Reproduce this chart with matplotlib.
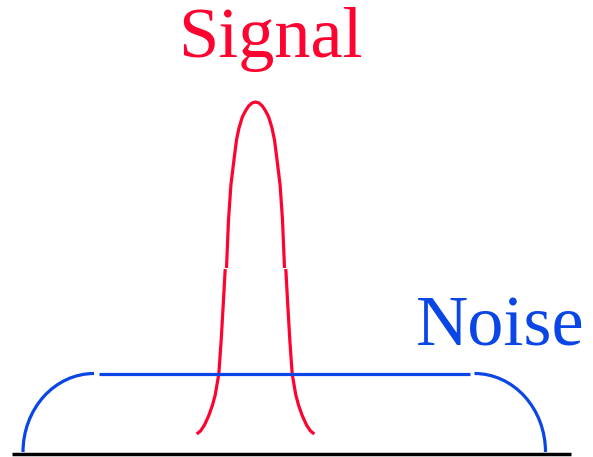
import matplotlib
matplotlib.use("Agg")
import matplotlib.pyplot as plt
from matplotlib.patches import Arc
import numpy as np

# ---- data (heights measured above the baseline, x in horizontal units) ----
signal_center = 255.5
# upper part of the signal peak: height, half-width
sig_upper_h = [352, 351, 348, 344, 339, 336, 326, 314, 296, 269, 234, 186]
sig_upper_w = [0.0, 3.5, 6.8, 9.5, 12.2, 13.5, 16.5, 19.0, 21.3, 24.6, 27.0, 29.0]
# lower part of the signal peak
sig_lower_h = [185, 154, 114, 80, 59, 49, 39, 29, 23, 20]
sig_lower_w = [30.3, 32.0, 34.3, 36.7, 40.3, 43.0, 46.5, 51.0, 55.0, 58.8]

noise_level = 80.5
noise_left_center = 94.0
noise_right_center = 474.5
noise_rx = 71.0
noise_ry = 78.5
noise_flat = [99.0, 469.5]
baseline_x = [12, 571]

signal_label = "Signal"
noise_label = "Noise"

red = "#ff0330"
blue = "#0a46e6"

fig = plt.figure(figsize=(5.93, 4.57), dpi=100)
ax = fig.add_axes([0, 0, 1, 1])
ax.set_xlim(0, 593)
ax.set_ylim(-3, 454)
ax.axis("off")

# baseline
ax.plot(baseline_x, [0, 0], color="black", lw=2.5, solid_capstyle="butt", zorder=1)

# signal (two pieces, each side)
uh = np.array(sig_upper_h); uw = np.array(sig_upper_w)
lh = np.array(sig_lower_h); lw_ = np.array(sig_lower_w)
ux = np.concatenate([signal_center - uw[::-1], signal_center + uw[1:]])
uy = np.concatenate([uh[::-1], uh[1:]])
ax.plot(ux, uy, color=red, lw=2.3, solid_capstyle="butt", zorder=2)
ax.plot(signal_center - lw_, lh, color=red, lw=2.3, solid_capstyle="butt", zorder=2)
ax.plot(signal_center + lw_, lh, color=red, lw=2.3, solid_capstyle="butt", zorder=2)

# noise
cy = noise_level - noise_ry
ax.add_patch(Arc((noise_left_center, cy), 2 * noise_rx, 2 * noise_ry,
                 theta1=90, theta2=180, color=blue, lw=2.3, zorder=3))
ax.add_patch(Arc((noise_right_center, cy), 2 * noise_rx, 2 * noise_ry,
                 theta1=0, theta2=90, color=blue, lw=2.3, zorder=3))
ax.plot(noise_flat, [noise_level, noise_level], color=blue, lw=2.3,
        solid_capstyle="butt", zorder=3)

# labels
ax.text(270.5, 454 - 57, signal_label, color=red, fontsize=52,
        family="Liberation Serif", ha="center", va="baseline")
ax.text(500.5, 454 - 345, noise_label, color=blue, fontsize=52,
        family="Liberation Serif", ha="center", va="baseline")

fig.savefig("out.png", dpi=100)
